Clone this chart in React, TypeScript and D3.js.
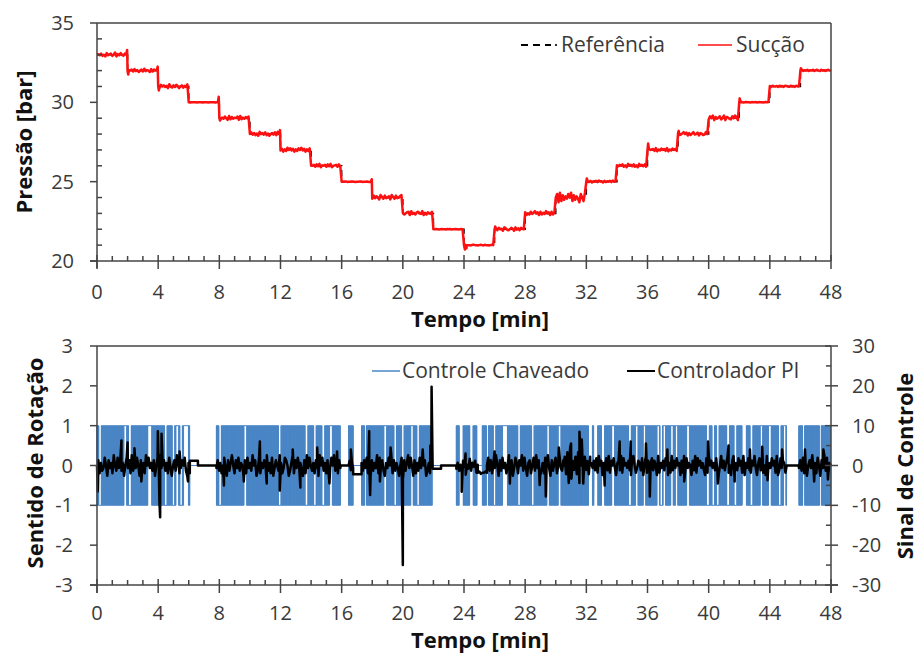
import React from 'react';
import * as d3 from 'd3';

// ---------- DATA ----------
const timeTicks = [0, 4, 8, 12, 16, 20, 24, 28, 32, 36, 40, 44, 48];
const pressureTicks = [20, 25, 30, 35];
const rotationTicks = [-3, -2, -1, 0, 1, 2, 3];
const signalTicks = [-30, -20, -10, 0, 10, 20, 30];

// Reference set-point steps (min, bar)
const stepTimes = [0, 2, 4, 6, 8, 10, 12, 14, 16, 18, 20, 22, 24, 26, 28, 30, 32, 34, 36, 38, 40, 42, 44, 46, 48];
const referenceLevels = [33, 32, 31, 30, 29, 28, 27, 26, 25, 24, 23, 22, 21, 22, 23, 24, 25, 26, 27, 28, 29, 30, 31, 32];

// Suction pressure: ripple read per step (digit 4 = on set-point, bar per digit unit)
const suctionNoiseScale = [0.035, 0.03, 0.035, 0.01, 0.035, 0.035, 0.035, 0.03, 0.015, 0.04, 0.035, 0.012,
  0.018, 0.03, 0.035, 0.075, 0.025, 0.03, 0.03, 0.03, 0.04, 0.015, 0.025, 0.025];
const suctionNoise = [
  '4536241735624815374264',
  '3546273514628354172645',
  '5274635184263751462538',
  '4354453445354435445344',
  '6253741826354718253647',
  '4736251846372514637284',
  '3615284736152748361527',
  '5462738154627381456273',
  '4455344554344553445434',
  '2736418527346185273468',
  '5246718352674381526437',
  '4454345443545344543454',
  '4534435544345435443454',
  '3627451863247518362754',
  '6142735846172538461725',
  '4708162537481625307418',
  '4536254637452635463745',
  '5364725184637251846372',
  '3745628153746281537462',
  '6235847162583471652384',
  '2748163572481653274861',
  '4453454435445354434545',
  '5364453645365436453645',
  '4635463546356436453564',
];
// Overshoots at the steps (min, bar)
const suctionSpikes: [number, number][] = [
  [1.97, 33.3], [2.04, 31.75], [3.97, 32.25], [4.04, 30.75], [7.96, 30.35], [8.04, 28.85],
  [11.97, 28.25], [17.97, 25.15], [24.06, 20.72], [24.16, 20.8], [26.04, 22.17],
  [32.03, 25.2], [36.04, 27.4], [38.04, 28.2], [42.03, 30.25], [46.03, 32.15],
];

// Switched control (+1/-1 chattering blocks, zero outside) (min)
const switchingBlocks: [number, number][] = [
  [0, 6.07], [7.81, 15.92], [16.45, 16.75], [17.3, 17.5], [17.62, 21.93], [23.5, 23.68],
  [23.95, 24.37], [24.6, 24.85], [25.2, 25.47], [25.6, 32.15], [32.4, 32.5], [32.75, 33.0],
  [33.2, 42.2], [42.47, 45.1], [45.9, 46.15], [46.28, 47.25], [47.37, 47.98],
];
// Short holds inside the blocks (white lines)
const switchingGaps = [
  0.2, 1.85, 2.15, 3.4, 3.5, 4.5, 5.0, 5.25, 5.5, 5.75, 5.9,
  8.05, 9.7, 11.95, 13.7, 14.25, 14.8, 15.3,
  18.85, 19.5, 20.0, 20.6, 21.0,
  26.0, 26.6, 26.75, 27.6, 28.5, 29.5, 30.25,
  33.75, 34.85, 35.3, 35.8, 36.7, 36.9, 37.1, 37.6, 37.9, 38.65, 39.95, 40.3, 40.6, 41.27, 41.75,
  42.8, 43.45, 44.0, 44.65, 44.97,
];

// PI controller signal: segments [start, end, base, units per digit] (right axis units)
const piSegments: [number, number, number, number][] = [
  [0, 6.07, 0, 0.65], [6.07, 6.6, 1.2, 0], [6.6, 7.81, 0, 0], [7.81, 15.92, 0, 0.65],
  [15.92, 16.45, 0, 0], [16.45, 16.75, 0, 0.6], [16.75, 17.3, -2.2, 0], [17.3, 21.95, 0, 0.65],
  [21.95, 22.5, -0.8, 0], [22.5, 23.5, 0, 0], [23.5, 24.9, -0.3, 0.5], [24.9, 25.5, -1.8, 0.3],
  [25.5, 30.5, 0, 0.65], [30.5, 32.25, 0, 1.1], [32.25, 45.1, 0, 0.6], [45.1, 45.9, 0, 0],
  [45.9, 48, 0, 0.65],
];
const piNoise = [
  '4615237406351842736250473618253740625184735260471834625173046285136472051',
  '44', '44',
  '3625147306258416372540617352846027153648251703642851376402581637452061837425163084725160374825163',
  '44', '46253', '44',
  '52637140625381746205374816253047162583740615273846025173',
  '44', '44',
  '36251740538264715',
  '4534454',
  '472615384062735148260375164827305614728360251748306257148326',
  '462708153627048163526',
  '4536271846053728164730562817453620784136527048163572640815362740518263745061827354062817463520718463527104836257140683527461805372164830572614082537461802736514',
  '44',
  '3627150463825174063827154',
];
const piSpikes: [number, number][] = [
  [0.05, -6.5], [1.6, 6.3], [2.0, 5.8], [2.45, 4.3], [2.9, -4], [3.98, 8.6], [4.08, -9], [4.13, -13],
  [4.22, 8.0], [5.4, 3.5], [5.95, -4], [8.3, -5], [9.6, -4], [10.65, 6.0], [11.1, -4.5], [11.95, -6.3],
  [12.8, 4], [13.3, -5.5], [14.4, 4.5], [15.2, -4.5], [15.7, 3.5], [16.6, 4.0], [17.8, 8.6], [17.86, -7.4],
  [18.5, -4], [19.2, 4.5], [20.0, -25], [20.02, -3], [21.3, 4], [21.8, 5], [21.88, 19.8], [23.85, -6.6],
  [24.1, 3], [26.0, 3.5], [27.0, -4.5], [28.95, -4.9], [29.35, -7.8], [30.2, 4.5], [31.0, 5.5],
  [31.55, 8.5], [31.7, 6.5], [31.8, -4.5], [33.2, -5], [34.18, 6.0], [34.9, 6.0], [35.9, 5.5],
  [36.15, -7.8], [37.3, 4], [38.4, -4], [39.96, 6.0], [40.6, -4.5], [41.3, 5.0], [41.7, -4.0],
  [42.7, 4], [43.5, 4.7], [43.85, -3.7], [44.8, 4], [46.3, 4], [46.9, -4], [47.5, 4.0], [47.8, -3.5],
];

// ---------- BUILD SERIES ----------
type P = [number, number];

function buildSuction(): P[] {
  const pts: P[] = [];
  referenceLevels.forEach((lvl, i) => {
    const a = stepTimes[i], b = stepTimes[i + 1];
    const s = suctionNoise[i];
    const n = s.length;
    for (let k = 0; k < n; k++) {
      pts.push([a + ((b - a) * k) / n, lvl + (+s[k] - 4) * suctionNoiseScale[i]]);
    }
  });
  pts.push([48, referenceLevels[referenceLevels.length - 1]]);
  suctionSpikes.forEach((p) => pts.push(p));
  pts.sort((p, q) => p[0] - q[0]);
  return pts;
}

function buildReference(): P[] {
  const pts: P[] = referenceLevels.map((l, i) => [stepTimes[i], l] as P);
  pts.push([48, referenceLevels[referenceLevels.length - 1]]);
  return pts;
}

function buildSwitching(): P[] {
  const pts: P[] = [[0, 0]];
  const dt = 0.02;
  const hold = 0.075;
  switchingBlocks.forEach(([a, b]) => {
    pts.push([a, 0]);
    let v = 1;
    for (let t = a; t <= b; t += dt) {
      if (switchingGaps.some((g) => Math.abs(t - g) < hold)) continue;
      pts.push([t, v]);
      pts.push([t, -v]);
      v = -v;
    }
    pts.push([b, 0]);
  });
  pts.push([48, 0]);
  return pts;
}

function buildPI(): P[] {
  const pts: P[] = [];
  piSegments.forEach(([a, b, base, sc], i) => {
    const s = piNoise[i];
    const n = s.length;
    for (let k = 0; k < n; k++) {
      pts.push([a + ((b - a) * k) / (n - 1), base + (+s[k] - 4) * sc]);
    }
  });
  piSpikes.forEach((p) => pts.push(p));
  pts.sort((p, q) => p[0] - q[0]);
  return pts;
}

// ---------- COMPONENT ----------
const FONT = '"Open Sans", "Noto Sans", sans-serif';
const AXIS = '#444';
const TXT = '#3a3a3a';

export default function App() {
  const x = d3.scaleLinear().domain([0, 48]).range([97, 831]);
  const yP = d3.scaleLinear().domain([20, 35]).range([261, 23]);
  const yL = d3.scaleLinear().domain([-3, 3]).range([585, 346]);
  const yR = d3.scaleLinear().domain([-30, 30]).range([585, 346]);

  const lineP = d3.line<P>().x((d) => x(d[0])).y((d) => yP(d[1]));
  const refLine = d3.line<P>().x((d) => x(d[0])).y((d) => yP(d[1])).curve(d3.curveStepAfter);
  const lineL = d3.line<P>().x((d) => x(d[0])).y((d) => yL(d[1]));
  const lineR = d3.line<P>().x((d) => x(d[0])).y((d) => yR(d[1]));

  const suction = buildSuction();
  const reference = buildReference();
  const switching = buildSwitching();
  const pi = buildPI();

  const minutes = d3.range(0, 49, 1);
  const pressMinor = d3.range(20, 36, 1).filter((v) => v % 5 !== 0);
  const signalMinor = d3.range(-25, 30, 10);

  const xAxis = (y0: number, baseline: number) => (
    <g>
      {minutes.filter((m) => m % 4 !== 0).map((m) => (
        <line key={'mn' + m} x1={x(m)} x2={x(m)} y1={y0} y2={y0 - 5} stroke={AXIS} strokeWidth={1.5} />
      ))}
      {timeTicks.map((t) => (
        <g key={'mj' + t}>
          <line x1={x(t)} x2={x(t)} y1={y0 - 6} y2={y0 + 8} stroke={AXIS} strokeWidth={1.5} />
          <text x={x(t)} y={baseline} textAnchor="middle" fontSize={20} fill={TXT} fontFamily={FONT}>{t}</text>
        </g>
      ))}
    </g>
  );

  return (
    <svg width={920} height={653} style={{ position: 'absolute', left: 0, top: 0, background: '#fff' }}>
      <rect x={0} y={0} width={920} height={653} fill="#fff" />
      {/* ================= TOP CHART ================= */}
      <path d={refLine(reference) || ''} fill="none" stroke="#000" strokeWidth={1.5} strokeDasharray="6,4" />
      <path d={lineP(suction) || ''} fill="none" stroke="#ff1010" strokeWidth={2.5} strokeLinejoin="round" />
      {/* frame */}
      <line x1={97} x2={831} y1={23} y2={23} stroke={AXIS} strokeWidth={1.5} />
      <line x1={831} x2={831} y1={23} y2={261} stroke={AXIS} strokeWidth={1.5} />
      <line x1={97} x2={97} y1={23} y2={268} stroke={AXIS} strokeWidth={1.5} />
      <line x1={90} x2={831} y1={261} y2={261} stroke={AXIS} strokeWidth={1.5} />
      {pressMinor.map((v) => (
        <line key={'pm' + v} x1={97} x2={102} y1={yP(v)} y2={yP(v)} stroke={AXIS} strokeWidth={1.5} />
      ))}
      {pressureTicks.map((v) => (
        <g key={'pt' + v}>
          <line x1={90} x2={97} y1={yP(v)} y2={yP(v)} stroke={AXIS} strokeWidth={1.5} />
          <text x={74} y={yP(v)} dy="0.35em" textAnchor="end" fontSize={20} fill={TXT} fontFamily={FONT}>{v}</text>
        </g>
      ))}
      {xAxis(261, 299)}
      <text transform="translate(24,142) rotate(-90)" dy="0.35em" textAnchor="middle" fontSize={22} fontWeight="bold" fill="#111" fontFamily={FONT}>Pressão [bar]</text>
      <text x={480} y={327} textAnchor="middle" fontSize={22} fontWeight="bold" fill="#111" fontFamily={FONT}>Tempo [min]</text>
      {/* legend */}
      <line x1={521} x2={551} y1={45} y2={45} stroke="#000" strokeWidth={2} strokeDasharray="7,5" />
      <circle cx={556} cy={45} r={1.1} fill="#000" />
      <text x={561} y={45} dy="0.35em" fontSize={21} fill={TXT} fontFamily={FONT}>Referência</text>
      <line x1={698} x2={732} y1={45} y2={45} stroke="#ff1010" strokeWidth={1.5} />
      <text x={736} y={45} dy="0.35em" fontSize={21} fill={TXT} fontFamily={FONT}>Sucção</text>

      {/* ================= BOTTOM CHART ================= */}
      <path d={lineL(switching) || ''} fill="none" stroke="#4a86c6" strokeWidth={1} />
      <path d={lineR(pi) || ''} fill="none" stroke="#000" strokeWidth={2.5} strokeLinejoin="round" />
      <line x1={97} x2={831} y1={346} y2={346} stroke={AXIS} strokeWidth={1.5} />
      <line x1={97} x2={97} y1={346} y2={593} stroke={AXIS} strokeWidth={1.5} />
      <line x1={831} x2={831} y1={346} y2={593} stroke={AXIS} strokeWidth={1.5} />
      <line x1={90} x2={838} y1={585} y2={585} stroke={AXIS} strokeWidth={1.5} />
      {rotationTicks.map((v) => (
        <g key={'rt' + v}>
          <line x1={90} x2={97} y1={yL(v)} y2={yL(v)} stroke={AXIS} strokeWidth={1.5} />
          <text x={73} y={yL(v)} dy="0.35em" textAnchor="end" fontSize={20} fill={TXT} fontFamily={FONT}>{v}</text>
        </g>
      ))}
      {signalMinor.map((v) => (
        <line key={'sm' + v} x1={826} x2={831} y1={yR(v)} y2={yR(v)} stroke={AXIS} strokeWidth={1.5} />
      ))}
      {signalTicks.map((v) => (
        <g key={'st' + v}>
          <line x1={825} x2={838} y1={yR(v)} y2={yR(v)} stroke={AXIS} strokeWidth={1.5} />
          <text x={852} y={yR(v)} dy="0.35em" textAnchor="start" fontSize={20} fill={TXT} fontFamily={FONT}>{v}</text>
        </g>
      ))}
      {xAxis(585, 620)}
      <text transform="translate(35,463) rotate(-90)" dy="0.35em" textAnchor="middle" fontSize={22} fontWeight="bold" fill="#111" fontFamily={FONT}>Sentido de Rotação</text>
      <text transform="translate(905,466) rotate(-90)" dy="0.35em" textAnchor="middle" fontSize={22} fontWeight="bold" fill="#111" fontFamily={FONT}>Sinal de Controle</text>
      <text x={480} y={648} textAnchor="middle" fontSize={22} fontWeight="bold" fill="#111" fontFamily={FONT}>Tempo [min]</text>
      {/* legend */}
      <line x1={372} x2={400} y1={371} y2={371} stroke="#4a86c6" strokeWidth={1.5} />
      <text x={402} y={371} dy="0.35em" fontSize={21} fill={TXT} fontFamily={FONT}>Controle Chaveado</text>
      <line x1={627} x2={655} y1={371} y2={371} stroke="#000" strokeWidth={2} />
      <text x={657} y={371} dy="0.35em" fontSize={21} fill={TXT} fontFamily={FONT}>Controlador PI</text>
    </svg>
  );
}
